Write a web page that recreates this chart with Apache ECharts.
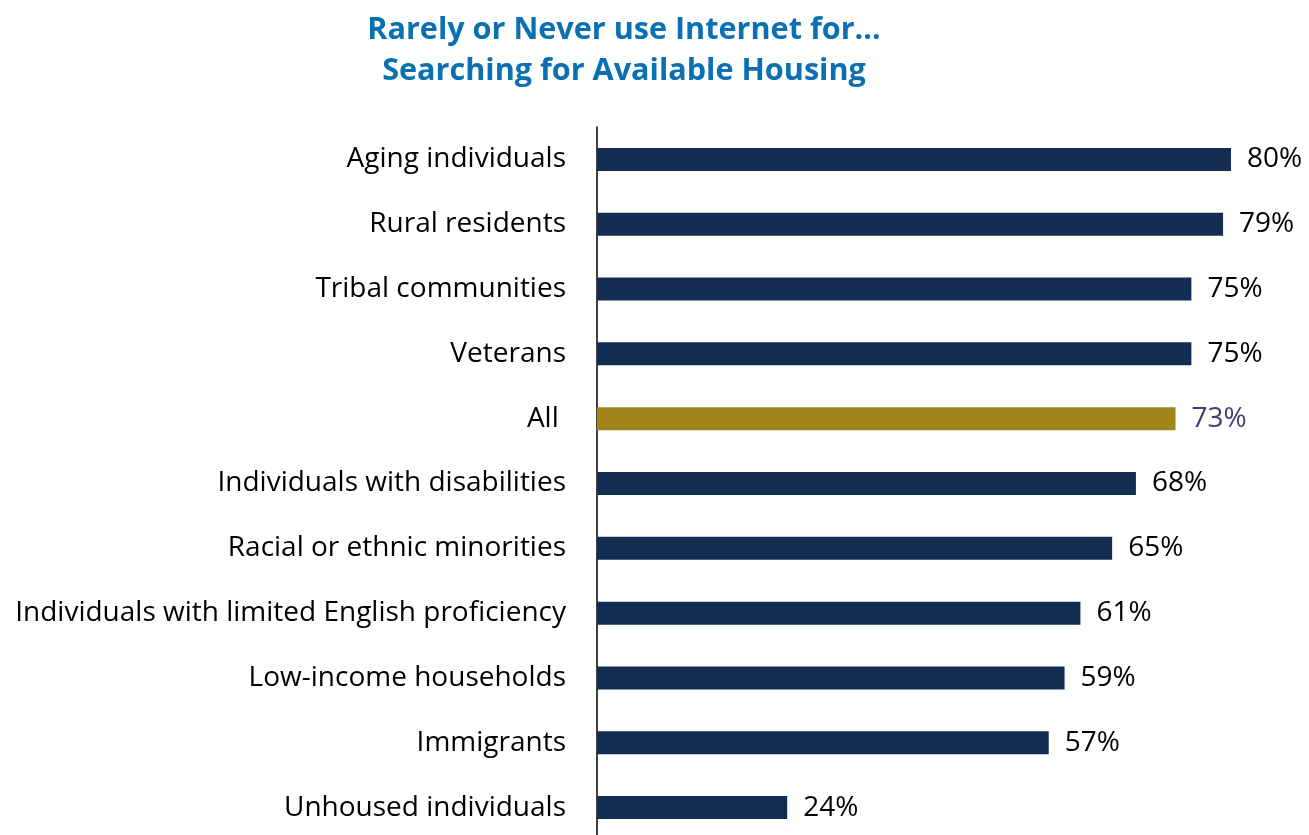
<!DOCTYPE html>
<html><head><meta charset="utf-8">
<script src="https://cdn.jsdelivr.net/npm/echarts@6/dist/echarts.min.js"></script>
<style>html,body{margin:0;padding:0;background:#fff;overflow:hidden}#c{width:1309px;height:850px}</style>
</head><body><div id="c"></div>
<script>
const titleLines = ['Rarely or Never use Internet for…', 'Searching for Available Housing'];
const categories = ['Aging individuals','Rural residents','Tribal communities','Veterans','All ','Individuals with disabilities','Racial or ethnic minorities','Individuals with limited English proficiency','Low-income households','Immigrants','Unhoused individuals'];
const values = [80,79,75,75,73,68,65,61,59,57,24];
const highlight = 'All ';

const FONT = '"Open Sans", Lato, sans-serif';
const chart = echarts.init(document.getElementById('c'));
const data = values.map((v,i)=>{
  const hi = categories[i]===highlight;
  return {value:v, itemStyle:{color: hi ? '#A0861A' : '#132D52'},
    label:{color: hi ? '#3F4170' : '#000'}};
});
chart.setOption({
  animation:false,
  title:{text: titleLines.join('\n'), left:619, top:5, textAlign:'center',
    textStyle:{fontFamily:FONT, fontWeight:'bold', fontSize:30.6, color:'#0A70B2', lineHeight:41}},
  grid:{left:597, top:127, width:634, height:713, containLabel:false},
  xAxis:{type:'value', min:0, max:80, show:false},
  yAxis:{type:'category', data:categories, inverse:true,
    axisLine:{show:true, lineStyle:{color:'#000', width:1.5}},
    axisTick:{show:false},
    axisLabel:{fontFamily:FONT, fontSize:28, color:'#000', margin:31, padding:[5,0,0,0]}},
  series:[{type:'bar', data:data, barWidth:23,
    label:{show:true, position:'right', distance:16, fontFamily:FONT, fontSize:28, padding:[5,0,0,0],
      formatter: p => p.value + '%'}}]
});
</script></body></html>
